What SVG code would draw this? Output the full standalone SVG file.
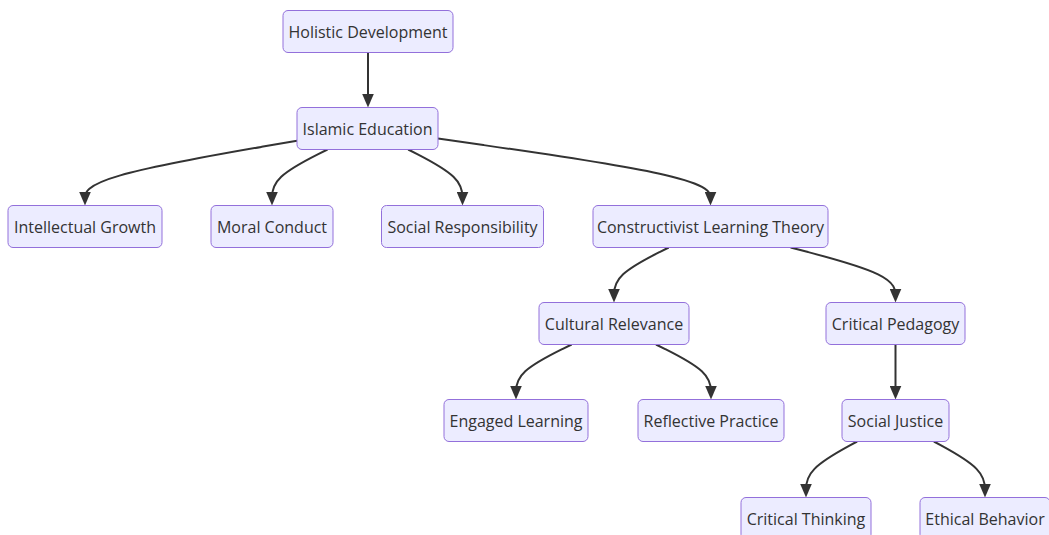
<svg xmlns="http://www.w3.org/2000/svg" width="1049" height="535" viewBox="0 0 1049 535">
<style>
.node rect{fill:#ECECFF;stroke:#9370DB;stroke-width:1px;}
.node text{font-family:"Open Sans","Liberation Sans",sans-serif;font-size:16px;fill:#333;text-anchor:middle;dominant-baseline:central;}
.edge{fill:none;stroke:#333;stroke-width:2px;marker-end:url(#arrow);}
</style>
<defs>
<marker id="arrow" viewBox="0 0 14 12" refX="10" refY="6" markerUnits="userSpaceOnUse" markerWidth="14" markerHeight="12" orient="auto">
<path d="M0,0 L14,6 L0,12 z" fill="#333"/>
</marker>
</defs>
<rect width="1049" height="535" fill="#fff"/>
<g id="connectors">
<path class="edge" d="M368,52.5 L368,103.5"/>
<path class="edge" d="M297,140.7 L261.67,146.83 C226.33,152.97 155.67,165.23 120.33,175.37 C85,185.5 85,193.5 85,197.5 L85,201.5"/>
<path class="edge" d="M327.5,149.5 L318.25,154.17 C309,158.83 290.5,168.17 281.25,176.83 C272,185.5 272,193.5 272,197.5 L272,201.5"/>
<path class="edge" d="M408.2,149.5 L417.25,154.17 C426.3,158.83 444.4,168.17 453.45,176.83 C462.5,185.5 462.5,193.5 462.5,197.5 L462.5,201.5"/>
<path class="edge" d="M438,138.57 L483.42,145.06 C528.83,151.55 619.67,164.52 665.08,175.01 C710.5,185.5 710.5,193.5 710.5,197.5 L710.5,201.5"/>
<path class="edge" d="M668.7,247.5 L659.58,252.08 C650.47,256.67 632.23,265.83 623.12,274.33 C614,282.83 614,290.67 614,294.58 L614,298.5"/>
<path class="edge" d="M790.6,247.5 L808.08,252.08 C825.57,256.67 860.53,265.83 878.02,274.33 C895.5,282.83 895.5,290.67 895.5,294.58 L895.5,298.5"/>
<path class="edge" d="M571.6,344.5 L562.33,349.08 C553.07,353.67 534.53,362.83 525.27,371.33 C516,379.83 516,387.67 516,391.58 L516,395.5"/>
<path class="edge" d="M656,344.5 L665.17,349.08 C674.33,353.67 692.67,362.83 701.83,371.33 C711,379.83 711,387.67 711,391.58 L711,395.5"/>
<path class="edge" d="M895.5,344.5 L895.5,395.5"/>
<path class="edge" d="M857.1,441.5 L848.58,446.17 C840.07,450.83 823.03,460.17 814.52,468.83 C806,477.5 806,485.5 806,489.5 L806,493.5"/>
<path class="edge" d="M933.9,441.5 L942.42,446.17 C950.93,450.83 967.97,460.17 976.48,468.83 C985,477.5 985,485.5 985,489.5 L985,493.5"/>
</g>
<g id="n-holistic" class="node"><rect x="283" y="10.5" width="170" height="42" rx="5"/><text x="368" y="31.5">Holistic Development</text></g>
<g id="n-islamic" class="node"><rect x="297" y="107.5" width="141" height="42" rx="5"/><text x="367.5" y="128.5">Islamic Education</text></g>
<g id="n-intellectual" class="node"><rect x="8" y="205.5" width="154" height="42" rx="5"/><text x="85" y="226.5">Intellectual Growth</text></g>
<g id="n-moral" class="node"><rect x="211" y="205.5" width="122" height="42" rx="5"/><text x="272" y="226.5">Moral Conduct</text></g>
<g id="n-social" class="node"><rect x="381.5" y="205.5" width="162" height="42" rx="5"/><text x="462.5" y="226.5">Social Responsibility</text></g>
<g id="n-constructivist" class="node"><rect x="593" y="205.5" width="235" height="42" rx="5"/><text x="710.5" y="226.5">Constructivist Learning Theory</text></g>
<g id="n-cultural" class="node"><rect x="539" y="302.5" width="150" height="42" rx="5"/><text x="614" y="323.5">Cultural Relevance</text></g>
<g id="n-pedagogy" class="node"><rect x="826" y="302.5" width="139" height="42" rx="5"/><text x="895.5" y="323.5">Critical Pedagogy</text></g>
<g id="n-engaged" class="node"><rect x="444" y="399.5" width="144" height="42" rx="5"/><text x="516" y="420.5">Engaged Learning</text></g>
<g id="n-reflective" class="node"><rect x="638" y="399.5" width="146" height="42" rx="5"/><text x="711" y="420.5">Reflective Practice</text></g>
<g id="n-justice" class="node"><rect x="842" y="399.5" width="107" height="42" rx="5"/><text x="895.5" y="420.5">Social Justice</text></g>
<g id="n-thinking" class="node"><rect x="741" y="497.5" width="130" height="42" rx="5"/><text x="806" y="518.5">Critical Thinking</text></g>
<g id="n-ethical" class="node"><rect x="920" y="497.5" width="130" height="42" rx="5"/><text x="985" y="518.5">Ethical Behavior</text></g>
</svg>
